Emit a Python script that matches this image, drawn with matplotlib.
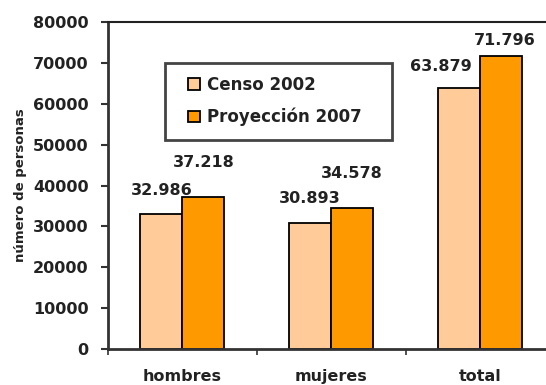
import matplotlib
matplotlib.use("Agg")
import matplotlib.pyplot as plt
from matplotlib.patches import Rectangle
import numpy as np

categories = ["hombres", "mujeres", "total"]
censo_2002 = [32986, 30893, 63879]
proyeccion_2007 = [37218, 34578, 71796]
series_names = ["Censo 2002", "Proyección 2007"]
y_ticks = [0, 10000, 20000, 30000, 40000, 50000, 60000, 70000, 80000]

# label offsets in pixels (dx, dy) relative to bar top centre
censo_offsets = [(0, 24), (0, 24), (-18, 21)]
proy_offsets = [(0, 34), (0, 34), (4, 15)]

colors = ["#FFCC99", "#FF9900"]
text_color = "#222222"

def fmt(v):
    return f"{v:,}".replace(",", ".")

W, H = 546, 385
fig = plt.figure(figsize=(W/100, H/100), dpi=100)
ax = fig.add_axes([108/W, 36/H, 1 - 108/W, (349 - 22)/H])

x = np.arange(len(categories))
w = 0.283
b1 = ax.bar(x - w/2, censo_2002, w, color=colors[0], edgecolor="black",
            linewidth=1.3, label=series_names[0])
b2 = ax.bar(x + w/2, proyeccion_2007, w, color=colors[1], edgecolor="black",
            linewidth=1.3, label=series_names[1])

for bars, vals, offs in ((b1, censo_2002, censo_offsets), (b2, proyeccion_2007, proy_offsets)):
    for rect, v, (dx, dy) in zip(bars, vals, offs):
        ax.annotate(fmt(v), (rect.get_x() + rect.get_width()/2, v),
                    xytext=(dx * 0.72, dy * 0.72), textcoords="offset points",
                    ha="center", va="center", fontsize=11.5, fontweight="bold",
                    color=text_color)

ax.set_xlim(-0.5, 2.444)
ax.set_ylim(0, 80000)
ax.set_yticks(y_ticks)
ax.set_yticklabels([str(t) for t in y_ticks], fontsize=11.5, fontweight="bold",
                   color=text_color)
ax.set_xticks([-0.5, 0.5, 1.5])
ax.set_xticklabels([])
ax.tick_params(axis="y", length=5, width=1.5, color="#333333", pad=9)
ax.tick_params(axis="x", length=4, width=1.2, color="#333333")
for i, c in enumerate(categories):
    ax.text(i, -6700, c, ha="center", va="center", fontsize=11.5,
            fontweight="bold", color=text_color, clip_on=False)

ax.set_ylabel("número de personas", fontsize=9.5, fontweight="bold",
              color=text_color, labelpad=4)

ax.spines["right"].set_visible(False)
ax.spines["left"].set_color("#333333")
ax.spines["left"].set_linewidth(2)
ax.spines["bottom"].set_color("#333333")
ax.spines["bottom"].set_linewidth(2)
ax.spines["top"].set_color("#222222")
ax.spines["top"].set_linewidth(1.5)

# legend frame drawn as a separate box
fig.patches.append(Rectangle((165/W, 1 - 140/H), 227/W, 77/H,
                             transform=fig.transFigure, facecolor="white",
                             edgecolor="#444444", linewidth=2, zorder=3))
leg = fig.legend(loc="center left", bbox_to_anchor=(188/W, 1 - 101/H),
                 fontsize=12, frameon=False,
                 handlelength=0.7, handleheight=0.7, handletextpad=0.45,
                 borderpad=0, labelspacing=0.85, borderaxespad=0)
leg.set_zorder(4)
for t in leg.get_texts():
    t.set_fontweight("bold")
    t.set_color(text_color)

fig.savefig("out.png", dpi=100)
